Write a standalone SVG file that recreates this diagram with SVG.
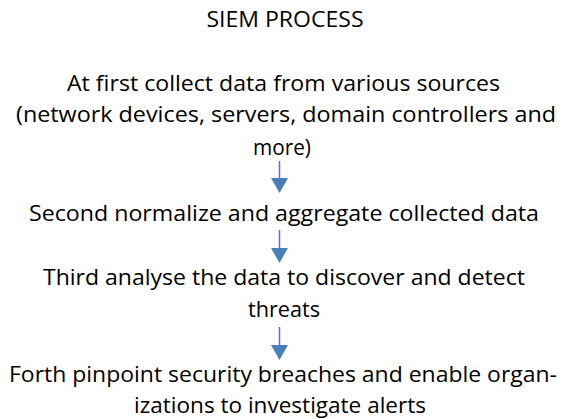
<svg xmlns="http://www.w3.org/2000/svg" width="564" height="419" viewBox="0 0 564 419">
  <style>
    .t { font-family: "Open Sans", "Liberation Sans", sans-serif; font-size: 22px; fill: #000000; text-anchor: middle; }
    .title { font-size: 21px; }
    .conn { stroke: #4a7ebb; stroke-width: 1.5; fill: none; }
  </style>
  <defs>
    <marker id="arrow" markerUnits="userSpaceOnUse" markerWidth="15" markerHeight="17" viewBox="0 0 15 17" refX="0" refY="8.5" orient="auto">
      <path d="M0,0 L15,8.5 L0,17 z" fill="#4a7ebb"/>
    </marker>
  </defs>
  <rect width="564" height="419" fill="#ffffff"/>
  <g id="title">
    <text class="t title" x="285" y="27" textLength="157" lengthAdjust="spacingAndGlyphs">SIEM PROCESS</text>
  </g>
  <g id="step1">
    <text class="t" x="283.5" y="91" textLength="433" lengthAdjust="spacingAndGlyphs">At first collect data from various sources</text>
    <text class="t" x="286" y="122" textLength="540" lengthAdjust="spacingAndGlyphs">(network devices, servers, domain controllers and</text>
    <text class="t" x="282" y="155" textLength="58" lengthAdjust="spacingAndGlyphs">more)</text>
  </g>
  <g id="step2">
    <text class="t" x="284" y="221" textLength="510" lengthAdjust="spacingAndGlyphs">Second normalize and aggregate collected data</text>
  </g>
  <g id="step3">
    <text class="t" x="284" y="285" textLength="482" lengthAdjust="spacingAndGlyphs">Third analyse the data to discover and detect</text>
    <text class="t" x="284" y="317" textLength="72" lengthAdjust="spacingAndGlyphs">threats</text>
  </g>
  <g id="step4">
    <text class="t" x="283" y="382" textLength="548" lengthAdjust="spacingAndGlyphs">Forth pinpoint security breaches and enable organ-</text>
    <text class="t" x="280" y="413" textLength="292" lengthAdjust="spacingAndGlyphs">izations to investigate alerts</text>
  </g>
  <g id="connectors">
    <line class="conn" x1="279.5" y1="161" x2="279.5" y2="178" marker-end="url(#arrow)"/>
    <line class="conn" x1="279.5" y1="230" x2="279.5" y2="248" marker-end="url(#arrow)"/>
    <line class="conn" x1="279.5" y1="327" x2="279.5" y2="345" marker-end="url(#arrow)"/>
  </g>
</svg>
